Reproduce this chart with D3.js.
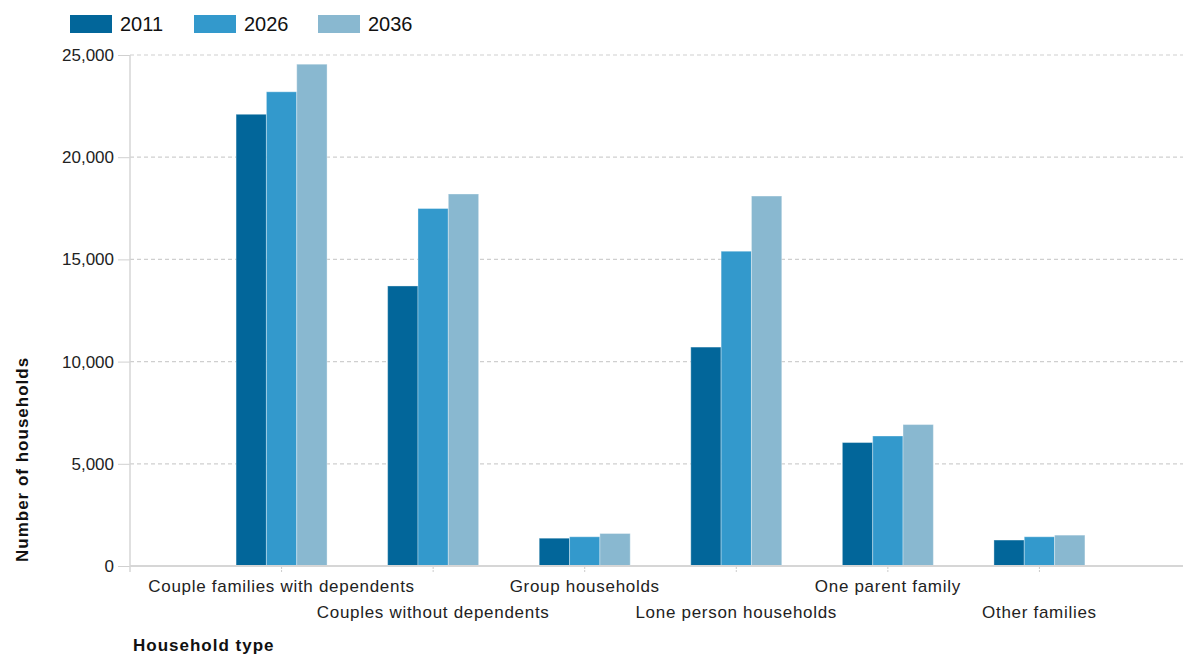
<!DOCTYPE html>
<html>
<head>
    <title>Households by type</title>
    <script src="https://d3js.org/d3.v7.min.js"></script>
    <style>
        body { margin: 0; background: #fff; }
        svg { font-family: "Liberation Sans", Arial, sans-serif; }
    </style>
</head>
<body>
    <div id="chart"></div>

    <script>
        // Data
        var categories = [
            "Couple families with dependents",
            "Couples without dependents",
            "Group households",
            "Lone person households",
            "One parent family",
            "Other families"
        ];
        var years = ["2011", "2026", "2036"];
        var values2011 = [22100, 13700, 1360, 10710, 6040, 1270];
        var values2026 = [23200, 17490, 1430, 15400, 6360, 1430];
        var values2036 = [24550, 18200, 1590, 18100, 6920, 1510];
        var yTicks = [0, 5000, 10000, 15000, 20000, 25000];
        var colors = ["#02669a", "#3399cc", "#89b8d0"];

        var series = [values2011, values2026, values2036];
        var rows = categories.map(function(c, i) {
            return { cat: c, vals: years.map(function(y, j) { return { year: y, value: series[j][i] }; }) };
        });

        var width = 1183, height = 654;
        var plotLeft = 130, plotRight = 1191, plotTop = 55, plotBottom = 566;

        var svg = d3.select("#chart").append("svg")
            .attr("width", width)
            .attr("height", height);

        var x = d3.scalePoint()
            .domain(categories)
            .range([plotLeft, plotRight])
            .padding(1);

        var groupWidth = 91;
        var xSub = d3.scaleBand()
            .domain(years)
            .range([-groupWidth / 2, groupWidth / 2]);

        var y = d3.scaleLinear()
            .domain([0, 25000])
            .range([plotBottom, plotTop]);

        var color = d3.scaleOrdinal().domain(years).range(colors);

        // y axis labels + small ticks
        var yAxis = d3.axisLeft(y)
            .tickValues(yTicks)
            .tickSize(12)
            .tickFormat(d3.format(","));
        var gy = svg.append("g")
            .attr("transform", "translate(" + plotLeft + ",0)")
            .call(yAxis);
        gy.select(".domain").remove();
        gy.selectAll(".tick line").attr("stroke", "#d0d0d0");
        gy.selectAll(".tick text")
            .attr("x", -16)
            .style("font-size", "17px")
            .style("fill", "#222");

        // dashed gridlines
        svg.append("g").selectAll("line")
            .data(yTicks.filter(function(d) { return d > 0; }))
            .enter().append("line")
            .attr("x1", plotLeft)
            .attr("x2", width)
            .attr("y1", function(d) { return y(d); })
            .attr("y2", function(d) { return y(d); })
            .attr("stroke", "#cfcfcf")
            .attr("stroke-width", 1.2)
            .attr("stroke-dasharray", "4,3");

        // y axis line
        svg.append("line")
            .attr("x1", plotLeft).attr("x2", plotLeft)
            .attr("y1", plotTop).attr("y2", plotBottom + 6)
            .attr("stroke", "#d6d6d6")
            .attr("stroke-width", 1.5);

        // bars
        var group = svg.append("g").selectAll("g")
            .data(rows)
            .enter().append("g")
            .attr("transform", function(d) { return "translate(" + x(d.cat) + ",0)"; });

        group.selectAll("rect")
            .data(function(d) { return d.vals; })
            .enter().append("rect")
            .attr("x", function(d) { return xSub(d.year); })
            .attr("width", xSub.bandwidth())
            .attr("y", function(d) { return y(d.value); })
            .attr("height", function(d) { return plotBottom - y(d.value); })
            .attr("fill", function(d) { return color(d.year); })
            .attr("stroke", "rgba(255,255,255,0.35)")
            .attr("stroke-width", 1);

        // x axis baseline
        svg.append("line")
            .attr("x1", plotLeft).attr("x2", width)
            .attr("y1", plotBottom).attr("y2", plotBottom)
            .attr("stroke", "#d6d6d6")
            .attr("stroke-width", 2);

        // x ticks
        svg.append("g").selectAll("line")
            .data(categories)
            .enter().append("line")
            .attr("x1", function(d) { return x(d); })
            .attr("x2", function(d) { return x(d); })
            .attr("y1", plotBottom + 1)
            .attr("y2", plotBottom + 7)
            .attr("stroke", "#cccccc")
            .attr("stroke-dasharray", "2,1");

        // x labels, staggered
        svg.append("g").selectAll("text")
            .data(categories)
            .enter().append("text")
            .attr("x", function(d) { return x(d); })
            .attr("y", function(d, i) { return i % 2 === 0 ? 592 : 618; })
            .style("text-anchor", "middle")
            .style("font-size", "17px")
            .style("letter-spacing", "0.7px")
            .style("fill", "#222")
            .text(function(d) { return d; });

        // axis titles
        svg.append("text")
            .attr("x", 133)
            .attr("y", 651)
            .style("font-size", "17px")
            .style("font-weight", "bold")
            .style("letter-spacing", "1px")
            .style("fill", "#111")
            .text("Household type");

        svg.append("text")
            .attr("transform", "translate(28,562) rotate(-90)")
            .style("font-size", "17px")
            .style("font-weight", "bold")
            .style("letter-spacing", "1px")
            .style("fill", "#111")
            .text("Number of households");

        // legend
        var legend = svg.append("g").selectAll("g")
            .data(years)
            .enter().append("g")
            .attr("transform", function(d, i) { return "translate(" + (70 + i * 124) + ",15)"; });

        legend.append("rect")
            .attr("width", 42)
            .attr("height", 18)
            .attr("fill", function(d) { return color(d); });

        legend.append("text")
            .attr("x", 50)
            .attr("y", 16)
            .style("font-size", "20px")
            .style("fill", "#111")
            .text(function(d) { return d; });
    </script>
</body>
</html>
